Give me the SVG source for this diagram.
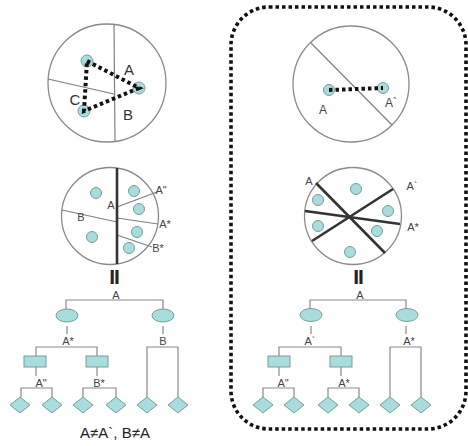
<svg xmlns="http://www.w3.org/2000/svg" width="468" height="446" viewBox="0 0 468 446">
<style>
.c{fill:none;stroke:#8a8a8a;stroke-width:1.3}
.thin{fill:none;stroke:#808080;stroke-width:1.2}
.thick{fill:none;stroke:#333;stroke-width:2.6}
.dot{fill:#a9dcdc;stroke:#7b9c9c;stroke-width:1}
.dash{fill:none;stroke:#111;stroke-width:4;stroke-dasharray:3.5 3}
.t{font-family:"Liberation Sans",Arial,sans-serif;fill:#444;text-anchor:middle}
.big{font-size:15px;fill:#333}
.sm{font-size:11px}
.tr{fill:none;stroke:#8a8a8a;stroke-width:1.2}
.sh{fill:#a9dcdc;stroke:#7b9c9c;stroke-width:1}
.eq{font-family:"Liberation Sans",Arial,sans-serif;font-weight:bold;font-size:21px;fill:#222;text-anchor:middle;letter-spacing:-1px}
</style>

<g id="frame">
<rect x="231" y="7" width="235" height="422" rx="38" fill="none" stroke="#111" stroke-width="3.6" stroke-dasharray="3.5 3"/>
</g>

<g id="circle-left-top">
<circle class="c" cx="107" cy="83" r="59"/>
<line class="thin" x1="114" y1="24.5" x2="115" y2="141.5"/>
<line class="thin" x1="48" y1="79" x2="114" y2="94"/>
<circle class="dot" cx="87" cy="61" r="6"/>
<circle class="dot" cx="139" cy="88" r="6"/>
<circle class="dot" cx="84" cy="111" r="6"/>
<path class="dash" d="M87 61 L139 88 L84 111 Z"/>
<text class="t big" x="129" y="75">A</text>
<text class="t big" x="75" y="105">C</text>
<text class="t big" x="128" y="120">B</text>
</g>

<g id="circle-left-mid">
<circle class="c" cx="110" cy="216" r="48.5"/>
<line class="thin" x1="62" y1="210" x2="117" y2="222"/>
<line class="thin" x1="117" y1="207" x2="157" y2="192"/>
<line class="thin" x1="117" y1="218" x2="158" y2="224"/>
<line class="thin" x1="117" y1="235" x2="152" y2="247"/>
<line class="thick" x1="117" y1="168" x2="117" y2="264"/>
<circle class="dot" cx="96" cy="193" r="5.5"/>
<circle class="dot" cx="134" cy="191" r="5.5"/>
<circle class="dot" cx="139" cy="209" r="5.5"/>
<circle class="dot" cx="92" cy="237" r="5.5"/>
<circle class="dot" cx="137" cy="232" r="5.5"/>
<circle class="dot" cx="129" cy="248" r="5.5"/>
<text class="t sm" x="111" y="209">A</text>
<text class="t sm" x="81" y="221">B</text>
<text class="t sm" x="161" y="194">A"</text>
<text class="t sm" x="165" y="228">A*</text>
<text class="t sm" x="158" y="252">B*</text>
<text class="eq" x="114" y="284">II</text>
</g>

<g id="tree-left">
<path class="tr" d="M66 309 V300 H163 V309"/>
<path class="tr" d="M67 326 V334 M36 356 V347 H97 V356"/>
<path class="tr" d="M36 367 V376 M21 397 V388 H52 V397"/>
<path class="tr" d="M97 367 V376 M83 397 V388 H116 V397"/>
<path class="tr" d="M163 326 V334 M147 397 V347 H178 V397"/>
<ellipse class="sh" cx="67" cy="315.5" rx="11" ry="6.5"/>
<ellipse class="sh" cx="163" cy="315.5" rx="11" ry="6.5"/>
<rect class="sh" x="24" y="356" width="22" height="11"/>
<rect class="sh" x="86" y="356" width="22" height="11"/>
<path class="sh" d="M20 397 L30 405 L20 413 L10 405 Z"/>
<path class="sh" d="M52 397 L62 405 L52 413 L42 405 Z"/>
<path class="sh" d="M83 397 L93 405 L83 413 L73 405 Z"/>
<path class="sh" d="M116 397 L126 405 L116 413 L106 405 Z"/>
<path class="sh" d="M147 397 L157 405 L147 413 L137 405 Z"/>
<path class="sh" d="M178 397 L188 405 L178 413 L168 405 Z"/>
<text class="t sm" x="116" y="299">A</text>
<text class="t sm" x="68" y="345">A*</text>
<text class="t sm" x="163" y="345">B</text>
<text class="t sm" x="41" y="387">A"</text>
<text class="t sm" x="99" y="387">B*</text>
<text class="t" x="115" y="438" style="font-size:15px;fill:#222">A≠A`, B≠A</text>
</g>

<g id="circle-right-top">
<circle class="c" cx="351" cy="84" r="58"/>
<line class="thin" x1="311" y1="43" x2="392" y2="125"/>
<circle class="dot" cx="329" cy="90" r="5.5"/>
<circle class="dot" cx="383" cy="88" r="5.5"/>
<line class="dash" x1="329" y1="90" x2="383" y2="88"/>
<text class="t sm" x="323" y="114" style="font-size:12px">A</text>
<text class="t sm" x="391" y="107" style="font-size:12px">A`</text>
</g>

<g id="circle-right-mid">
<circle class="c" cx="353" cy="216" r="48.5"/>
<line class="thick" x1="316" y1="183" x2="385" y2="253"/>
<line class="thick" x1="393" y1="189" x2="312" y2="241"/>
<line class="thick" x1="305" y1="211" x2="400" y2="224"/>
<circle class="dot" cx="356" cy="189" r="5.5"/>
<circle class="dot" cx="318" cy="200" r="5.5"/>
<circle class="dot" cx="388" cy="211" r="5.5"/>
<circle class="dot" cx="318" cy="226" r="5.5"/>
<circle class="dot" cx="377" cy="231" r="5.5"/>
<circle class="dot" cx="350" cy="252" r="5.5"/>
<text class="t sm" x="309" y="185">A</text>
<text class="t sm" x="412" y="190">A`</text>
<text class="t sm" x="413" y="231">A*</text>
<text class="eq" x="358" y="284">II</text>
</g>

<g id="tree-right">
<path class="tr" d="M310 309 V300 H406 V309"/>
<path class="tr" d="M311 326 V334 M279 356 V347 H341 V356"/>
<path class="tr" d="M279 367 V376 M263 397 V388 H294 V397"/>
<path class="tr" d="M341 367 V376 M328 397 V388 H359 V397"/>
<path class="tr" d="M406 326 V334 M390 397 V347 H421 V397"/>
<ellipse class="sh" cx="311" cy="315" rx="11" ry="6.5"/>
<ellipse class="sh" cx="407" cy="315" rx="11" ry="6.5"/>
<rect class="sh" x="268" y="356" width="22" height="11"/>
<rect class="sh" x="330" y="356" width="22" height="11"/>
<path class="sh" d="M263 397 L273 405 L263 413 L253 405 Z"/>
<path class="sh" d="M294 397 L304 405 L294 413 L284 405 Z"/>
<path class="sh" d="M328 397 L338 405 L328 413 L318 405 Z"/>
<path class="sh" d="M359 397 L369 405 L359 413 L349 405 Z"/>
<path class="sh" d="M390 397 L400 405 L390 413 L380 405 Z"/>
<path class="sh" d="M421 397 L431 405 L421 413 L411 405 Z"/>
<text class="t sm" x="360" y="299">A</text>
<text class="t sm" x="310" y="345">A`</text>
<text class="t sm" x="409" y="345">A*</text>
<text class="t sm" x="283" y="387">A"</text>
<text class="t sm" x="344" y="387">A*</text>
</g>
</svg>
